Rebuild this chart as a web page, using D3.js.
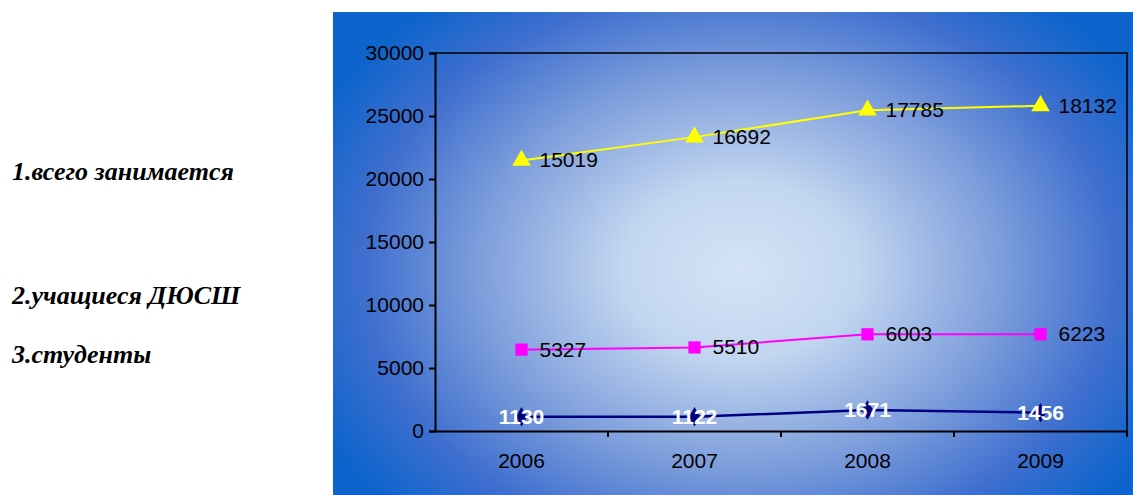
<!DOCTYPE html>
<html>
<head>
<meta charset="utf-8">
<script src="https://cdn.jsdelivr.net/npm/d3@7"></script>
<style>
  body { margin: 0; background: #fff; }
  svg { display: block; }
</style>
</head>
<body>
<script>
const width = 1133;
const height = 495;

const years = ['2006', '2007', '2008', '2009'];
const students = [1130, 1122, 1671, 1456];
const dyussh = [5327, 5510, 6003, 6223];
const total = [15019, 16692, 17785, 18132];
const yTicks = [0, 5000, 10000, 15000, 20000, 25000, 30000];
const sideNotes = ['1.всего занимается', '2.учащиеся ДЮСШ', '3.студенты'];

const rows = years.map(function (y, i) {
  return { year: y, students: students[i], dyussh: dyussh[i], total: total[i] };
});

const keys = ['students', 'dyussh', 'total'];
const stacked = d3.stack().keys(keys)(rows);

const svg = d3.select('body').append('svg').attr('width', width).attr('height', height);

const defs = svg.append('defs');
const grad = defs
  .append('radialGradient')
  .attr('id', 'bg')
  .attr('gradientUnits', 'userSpaceOnUse')
  .attr('cx', 740)
  .attr('cy', 270)
  .attr('r', 470)
  .attr('gradientTransform', 'translate(740,270) scale(1,0.75) translate(-740,-270)');
grad.append('stop').attr('offset', '0').attr('stop-color', '#d4e3f6');
grad.append('stop').attr('offset', '0.25').attr('stop-color', '#c2d6f0');
grad.append('stop').attr('offset', '0.55').attr('stop-color', '#7f9fdc');
grad.append('stop').attr('offset', '0.8').attr('stop-color', '#3f6fcf');
grad.append('stop').attr('offset', '1').attr('stop-color', '#0c64cc');

// background panel
svg.append('rect').attr('x', 333).attr('y', 12).attr('width', width - 333).attr('height', height - 12).attr('fill', '#0c64cc');
svg.append('rect').attr('x', 333).attr('y', 12).attr('width', width - 333).attr('height', height - 12).attr('fill', 'url(#bg)');

// side notes
svg
  .selectAll('.note')
  .data(sideNotes)
  .enter()
  .append('text')
  .attr('class', 'note')
  .attr('x', 12)
  .attr('y', function (d, i) {
    return [180, 304, 363][i];
  })
  .attr('font-family', "'Liberation Serif', 'Times New Roman', serif")
  .attr('font-style', 'italic')
  .attr('font-weight', 'bold')
  .attr('font-size', 26)
  .text(function (d) {
    return d;
  });

const plot = { left: 435, right: 1127, top: 53, bottom: 431 };

const x = d3.scaleBand().domain(years).range([plot.left, plot.right]);
const y = d3.scaleLinear().domain([0, 30000]).range([plot.bottom, plot.top]);
const cx = function (yr) {
  return x(yr) + x.bandwidth() / 2;
};

// plot border (top and right)
svg
  .append('path')
  .attr('d', 'M' + plot.left + ',' + plot.top + 'H' + plot.right + 'V' + plot.bottom)
  .attr('fill', 'none')
  .attr('stroke', '#000')
  .attr('stroke-width', 1.5);

const font = "'Liberation Sans', Arial, sans-serif";
const fs = 21;

// y axis
const yAxis = svg
  .append('g')
  .attr('transform', 'translate(' + plot.left + ',0)')
  .call(d3.axisLeft(y).tickValues(yTicks).tickFormat(d3.format('d')).tickSize(6).tickPadding(5));
yAxis.select('.domain').attr('stroke', '#000').attr('stroke-width', 2);
yAxis.selectAll('line').attr('stroke', '#000').attr('stroke-width', 2);
yAxis.selectAll('text').attr('font-family', font).attr('font-size', fs).attr('fill', '#000');

// x axis with ticks at band edges
const xAxis = svg
  .append('g')
  .attr('transform', 'translate(0,' + plot.bottom + ')')
  .call(d3.axisBottom(x).tickSize(0).tickPadding(22));
xAxis.select('.domain').attr('stroke', '#000').attr('stroke-width', 2);
xAxis.selectAll('text').attr('font-family', font).attr('font-size', fs).attr('fill', '#000');
xAxis
  .selectAll('.edge')
  .data(years.slice(1).concat(['end']))
  .enter()
  .append('line')
  .attr('class', 'edge')
  .attr('x1', function (d) {
    return d === 'end' ? plot.right : x(d);
  })
  .attr('x2', function (d) {
    return d === 'end' ? plot.right : x(d);
  })
  .attr('y1', 0)
  .attr('y2', 6)
  .attr('stroke', '#000')
  .attr('stroke-width', 2);

const styles = {
  students: { color: '#000080', symbol: d3.symbolDiamond, size: 110, width: 2.5 },
  dyussh: { color: '#ff00ff', symbol: d3.symbolSquare, size: 150, width: 2 },
  total: { color: '#ffff00', symbol: d3.symbolTriangle, size: 150, width: 2 },
};

const line = d3
  .line()
  .x(function (d) {
    return cx(d.data.year);
  })
  .y(function (d) {
    return y(d[1]);
  });

stacked.forEach(function (layer) {
  const st = styles[layer.key];
  const g = svg.append('g');
  g.append('path').datum(layer).attr('d', line).attr('fill', 'none').attr('stroke', st.color).attr('stroke-width', st.width);
  g.selectAll('path.m')
    .data(layer)
    .enter()
    .append('path')
    .attr('class', 'm')
    .attr('d', d3.symbol().type(st.symbol).size(st.size))
    .attr('transform', function (d) {
      return 'translate(' + cx(d.data.year) + ',' + y(d[1]) + ')';
    })
    .attr('fill', st.color);

  const isStud = layer.key === 'students';
  g.selectAll('text')
    .data(layer)
    .enter()
    .append('text')
    .attr('x', function (d) {
      return isStud ? cx(d.data.year) : cx(d.data.year) + 18;
    })
    .attr('y', function (d) {
      return y(d[1]) + 7;
    })
    .attr('text-anchor', isStud ? 'middle' : 'start')
    .attr('font-family', font)
    .attr('font-size', fs)
    .attr('font-weight', isStud ? 'bold' : 'normal')
    .attr('fill', isStud ? '#fff' : '#000')
    .text(function (d) {
      return d.data[layer.key];
    });
});
</script>
</body>
</html>
